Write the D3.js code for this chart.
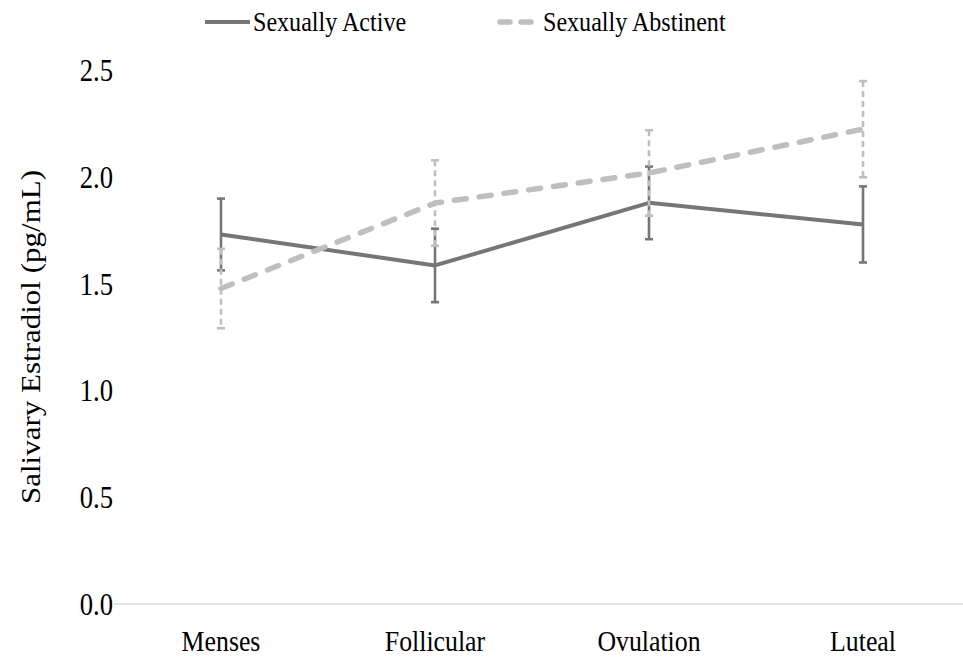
<!DOCTYPE html>
<html>
<head>
<meta charset="utf-8">
<script src="https://cdn.jsdelivr.net/npm/d3@7"></script>
<style>
  body { margin: 0; background: #fff; }
  svg { display: block; }
</style>
</head>
<body>
<svg id="chart" width="963" height="658" font-family="'Liberation Serif', Tinos, 'Times New Roman', 'DejaVu Serif', serif"></svg>
<script>
const categories = ["Menses", "Follicular", "Ovulation", "Luteal"];
const activeMean = [1.73, 1.585, 1.878, 1.777];
const activeErr  = [0.168, 0.172, 0.17, 0.178];
const abstMean   = [1.477, 1.877, 2.018, 2.223];
const abstErr    = [0.186, 0.2, 0.2, 0.225];
const yTicks = [0, 0.5, 1.0, 1.5, 2.0, 2.5];
const seriesNames = ["Sexually Active", "Sexually Abstinent"];

const svg = d3.select("#chart");
const SX = 0.86;

const x = d3.scaleBand().domain(categories).range([114, 970]);
const y = d3.scaleLinear().domain([0, 2.5]).range([604, 70]);
const cx = c => x(c) + x.bandwidth() / 2;

// baseline
svg.append("line")
  .attr("x1", 114).attr("x2", 963)
  .attr("y1", y(0)).attr("y2", y(0))
  .attr("stroke", "#d9d9d9").attr("stroke-width", 1.3);

// y tick labels
yTicks.forEach(t => {
  svg.append("text")
    .attr("transform", `translate(113,${y(t) + 11}) scale(${SX},1)`)
    .attr("text-anchor", "end")
    .attr("font-size", 31)
    .attr("fill", "#000")
    .text(d3.format(".1f")(t));
});

// x labels
categories.forEach(c => {
  svg.append("text")
    .attr("transform", `translate(${cx(c)},651) scale(${SX},1)`)
    .attr("text-anchor", "middle")
    .attr("font-size", 30)
    .attr("fill", "#000")
    .text(c);
});

// y title
svg.append("text")
  .attr("transform", `translate(40,337) rotate(-90) scale(1,${SX})`)
  .attr("text-anchor", "middle")
  .attr("font-size", 31)
  .attr("fill", "#000")
  .text("Salivary Estradiol (pg/mL)");

function drawSeries(means, errs, color, lw, dash, errDash) {
  const pts = categories.map((c, i) => [cx(c), y(means[i])]);
  svg.append("path")
    .attr("d", d3.line()(pts))
    .attr("fill", "none")
    .attr("stroke", color)
    .attr("stroke-width", lw)
    .attr("stroke-linejoin", "round")
    .attr("stroke-linecap", dash ? "round" : "butt")
    .attr("stroke-dasharray", dash || null);
  const g = svg.append("g").attr("stroke", color).attr("stroke-width", 2.6);
  categories.forEach((c, i) => {
    const X = cx(c), t = y(means[i] + errs[i]), b = y(means[i] - errs[i]);
    g.append("line").attr("x1", X).attr("x2", X).attr("y1", t).attr("y2", b)
      .attr("stroke-dasharray", errDash || null);
    g.append("line").attr("x1", X - 4).attr("x2", X + 4).attr("y1", t).attr("y2", t);
    g.append("line").attr("x1", X - 4).attr("x2", X + 4).attr("y1", b).attr("y2", b);
  });
}

drawSeries(activeMean, activeErr, "#767676", 4, null, null);
drawSeries(abstMean, abstErr, "#bfbfbf", 5.5, "12,13", "6,4");

// legend
svg.append("line").attr("x1", 205).attr("x2", 250).attr("y1", 22).attr("y2", 22)
  .attr("stroke", "#767676").attr("stroke-width", 4);
svg.append("text")
  .attr("transform", `translate(253,31) scale(${SX},1)`)
  .attr("font-size", 28)
  .attr("fill", "#000")
  .text(seriesNames[0]);
svg.append("line").attr("x1", 500).attr("x2", 537).attr("y1", 22).attr("y2", 22)
  .attr("stroke", "#bfbfbf").attr("stroke-width", 5.5)
  .attr("stroke-linecap", "round").attr("stroke-dasharray", "10,11");
svg.append("text")
  .attr("transform", `translate(543,31) scale(${SX},1)`)
  .attr("font-size", 28)
  .attr("fill", "#000")
  .text(seriesNames[1]);
</script>
</body>
</html>
